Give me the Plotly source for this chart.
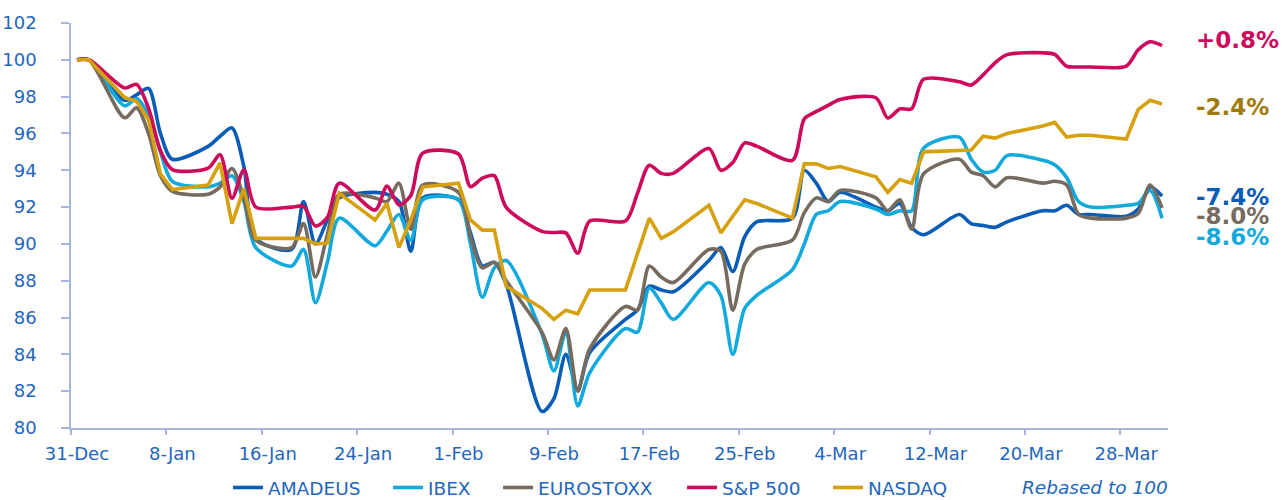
import pandas as pd
import plotly.graph_objects as go

# ---------------- data (rebased to 100) ----------------
dates = [
    "2015-12-31", "2016-01-01",
    "2016-01-04", "2016-01-05", "2016-01-06", "2016-01-07", "2016-01-08",
    "2016-01-11", "2016-01-12", "2016-01-13", "2016-01-14", "2016-01-15",
    "2016-01-18", "2016-01-19", "2016-01-20", "2016-01-21", "2016-01-22",
    "2016-01-25", "2016-01-26", "2016-01-27", "2016-01-28", "2016-01-29",
    "2016-02-01", "2016-02-02", "2016-02-03", "2016-02-04", "2016-02-05",
    "2016-02-08", "2016-02-09", "2016-02-10", "2016-02-11", "2016-02-12",
    "2016-02-15", "2016-02-16", "2016-02-17", "2016-02-18", "2016-02-19",
    "2016-02-22", "2016-02-23", "2016-02-24", "2016-02-25", "2016-02-26",
    "2016-02-29", "2016-03-01", "2016-03-02", "2016-03-03", "2016-03-04",
    "2016-03-07", "2016-03-08", "2016-03-09", "2016-03-10", "2016-03-11",
    "2016-03-14", "2016-03-15", "2016-03-16", "2016-03-17", "2016-03-18",
    "2016-03-21", "2016-03-22", "2016-03-23", "2016-03-24", "2016-03-25",
    "2016-03-28", "2016-03-29", "2016-03-30", "2016-03-31",
]

amadeus = [
    100.0, 100.0,
    97.8, 98.1, 98.45, 96.0, 94.6,
    95.3, 95.85, 96.3, 94.2, 90.3,
    89.7, 92.3, 90.0, 91.3, 92.5,
    92.8, 92.7, 92.3, 89.6, 92.5,
    92.4, 90.6, 88.8, 89.0, 87.8,
    80.9, 81.6, 84.0, 82.1, 84.1,
    85.9, 86.4, 87.7, 87.5, 87.4,
    89.1, 89.8, 88.5, 90.4, 91.2,
    91.4, 94.0, 93.3, 92.3, 92.8,
    92.0, 91.8, 92.2, 90.9, 90.5,
    91.6, 91.1, 91.0, 90.9, 91.2,
    91.8, 91.8, 92.1, 91.6, 91.6,
    91.5, 91.9, 93.1, 92.6,
]

ibex = [
    100.0, 100.0,
    97.5, 97.9, 97.0, 95.0, 93.4,
    93.1, 93.3, 93.7, 92.3, 89.8,
    88.8, 89.7, 86.8, 89.0, 91.4,
    89.9, 90.7, 91.6, 90.2, 92.4,
    92.4, 90.0, 87.1, 88.7, 89.1,
    85.1, 83.1, 85.2, 81.2, 83.0,
    85.4, 85.2, 87.6, 86.8, 85.9,
    87.9, 87.2, 84.0, 86.5, 87.2,
    88.6, 90.0, 91.6, 91.8, 92.3,
    91.9, 91.6, 91.8, 91.8, 95.2,
    95.8, 94.6, 93.9, 94.0, 94.8,
    94.55, 94.3, 93.6, 92.3, 92.0,
    92.1, 92.2, 92.9, 91.4,
]

eurostoxx = [
    100.0, 100.0,
    96.85, 97.4, 96.0, 93.7, 92.85,
    92.7, 93.1, 94.1, 92.5, 90.2,
    89.8, 91.1, 88.2, 90.5, 92.7,
    92.5, 92.3, 93.3, 90.8, 93.2,
    92.8, 90.4, 88.7, 89.0, 88.0,
    85.2, 83.7, 85.4, 82.0, 84.3,
    86.6, 86.4, 88.8, 88.2, 87.9,
    89.7, 89.6, 86.4, 88.9, 89.7,
    90.2, 91.7, 92.5, 92.3, 92.9,
    92.5, 91.8, 92.4, 90.8, 93.8,
    94.6, 93.9, 93.7, 93.1, 93.6,
    93.3, 93.4, 93.2, 91.6, 91.4,
    91.4, 91.65, 93.2, 91.96,
]

sp500 = [
    100.0, 100.0,
    98.47, 98.67, 97.37, 95.07, 94.04,
    94.12, 94.85, 92.48, 94.03, 92.00,
    92.00, 92.04, 90.97, 91.44, 93.30,
    91.84, 93.14, 92.12, 92.63, 94.93,
    94.88, 93.11, 93.57, 93.71, 91.98,
    90.68, 90.62, 90.60, 89.49, 91.24,
    91.24, 92.74, 94.27, 93.83, 93.83,
    95.18, 94.00, 94.42, 95.49, 95.31,
    94.54, 96.79, 97.19, 97.53, 97.85,
    97.94, 96.84, 97.33, 97.34, 98.94,
    98.81, 98.63, 99.18, 99.84, 100.28,
    100.38, 100.29, 99.65, 99.61, 99.61,
    99.66, 100.54, 100.98, 100.77,
]

nasdaq = [
    100.0, 100.0,
    97.95, 97.75, 96.75, 93.8, 92.95,
    93.2, 94.4, 91.1, 93.0, 90.3,
    90.3, 90.3, 90.0, 90.05, 92.75,
    91.3, 92.2, 89.8, 91.3, 93.1,
    93.3, 91.3, 90.75, 90.75, 87.7,
    86.5, 85.9, 86.4, 86.2, 87.5,
    87.5, 89.4, 91.4, 90.3, 90.65,
    92.1, 90.6, 91.5, 92.4, 92.2,
    91.4, 94.35, 94.35, 94.1, 94.2,
    93.65, 92.8, 93.5, 93.3, 95.0,
    95.05, 95.1, 95.85, 95.75, 96.0,
    96.4, 96.6, 95.8, 95.9, 95.9,
    95.7, 97.3, 97.8, 97.6,
]

series_names = ["AMADEUS", "IBEX", "EUROSTOXX", "S&P 500", "NASDAQ"]
end_labels = ["-7.4%", "-8.6%", "-8.0%", "+0.8%", "-2.4%"]

tick_dates = ["2015-12-31", "2016-01-08", "2016-01-16", "2016-01-24",
              "2016-02-01", "2016-02-09", "2016-02-17", "2016-02-25",
              "2016-03-04", "2016-03-12", "2016-03-20", "2016-03-28"]
tick_labels = ["31-Dec", "8-Jan", "16-Jan", "24-Jan", "1-Feb", "9-Feb",
               "17-Feb", "25-Feb", "4-Mar", "12-Mar", "20-Mar", "28-Mar"]

# ---------------- styling ----------------
line_colors = ["#0A5DB6", "#12AADC", "#766B5E", "#CE0A5D", "#D6A00F"]
label_colors = ["#0A5DB6", "#12AADC", "#766B5E", "#CE0A5D", "#A07A0B"]
line_shapes = ["spline", "spline", "spline", "spline", "linear"]
label_y = [92.55, 90.38, 91.5, 101.08, 97.44]       # vertical spots of end labels
legend_x = [0.1431, 0.2890, 0.3893, 0.5570, 0.6901]  # one legend box per series
legend_y = -0.148
text_blue = "#1F66BC"
axis_color = "#A7B5DC"
font_family = "DejaVu Sans, Verdana, sans-serif"

half_day = pd.Timedelta(hours=12)
# points (and labels) sit in the middle of each day, tick marks at day start
x = pd.to_datetime(dates) + half_day
label_pos = pd.to_datetime(tick_dates) + half_day

fig = go.Figure()
legend_keys = ["legend", "legend2", "legend3", "legend4", "legend5"]
for name, vals, color, shape, lk in zip(series_names,
                                        [amadeus, ibex, eurostoxx, sp500, nasdaq],
                                        line_colors, line_shapes, legend_keys):
    fig.add_trace(go.Scatter(
        x=x, y=vals, name=name, mode="lines", legend=lk,
        line=dict(color=color, width=3.6, shape=shape, smoothing=0.8),
    ))

for text, yv, color in zip(end_labels, label_y, label_colors):
    fig.add_annotation(
        x=1.0237, xref="paper", xanchor="left",
        y=yv, yref="y", yanchor="middle",
        text=f"<b>{text}</b>", showarrow=False,
        font=dict(family=font_family, size=23, color=color),
    )

fig.add_annotation(
    x=0.8651, xref="paper", xanchor="left",
    y=legend_y, yref="paper", yanchor="middle",
    text="<i>Rebased to 100</i>", showarrow=False,
    font=dict(family=font_family, size=18.5, color=text_blue),
)

legends = {}
for lk, lx in zip(legend_keys, legend_x):
    legends[lk] = dict(orientation="h", x=lx, xanchor="left",
                       y=legend_y, yanchor="middle",
                       font=dict(family=font_family, size=18.5, color=text_blue),
                       bgcolor="rgba(0,0,0,0)", itemwidth=30)

fig.update_layout(
    width=1287, height=500,
    margin=dict(l=71, r=119, t=23, b=72, autoexpand=False),
    paper_bgcolor="white", plot_bgcolor="white",
    font=dict(family=font_family, size=18, color=text_blue),
    showlegend=True,
    xaxis=dict(type="date", range=["2015-12-31", "2016-04-01"],
               tickmode="array", tickvals=label_pos, ticktext=tick_labels,
               showline=True, linecolor=axis_color, linewidth=1.5,
               ticks="outside", ticklen=0, tickcolor="rgba(0,0,0,0)",
               ticklabelstandoff=9,
               minor=dict(tick0=tick_dates[0], dtick=8 * 86400000,
                          ticks="outside", ticklen=5, tickwidth=1.5,
                          tickcolor=axis_color, showgrid=False),
               showgrid=False, zeroline=False,
               tickfont=dict(family=font_family, size=18, color=text_blue)),
    yaxis=dict(range=[80, 102], tick0=80, dtick=2,
               showline=True, linecolor=axis_color, linewidth=1.5,
               ticks="outside", ticklen=8, tickwidth=1.5, tickcolor=axis_color,
               showgrid=False, zeroline=False, ticklabelstandoff=21,
               tickfont=dict(family=font_family, size=18, color=text_blue)),
    **legends,
)

fig.write_html("out.html", config={"displayModeBar": False},
               post_script="document.body.style.margin='0';")
